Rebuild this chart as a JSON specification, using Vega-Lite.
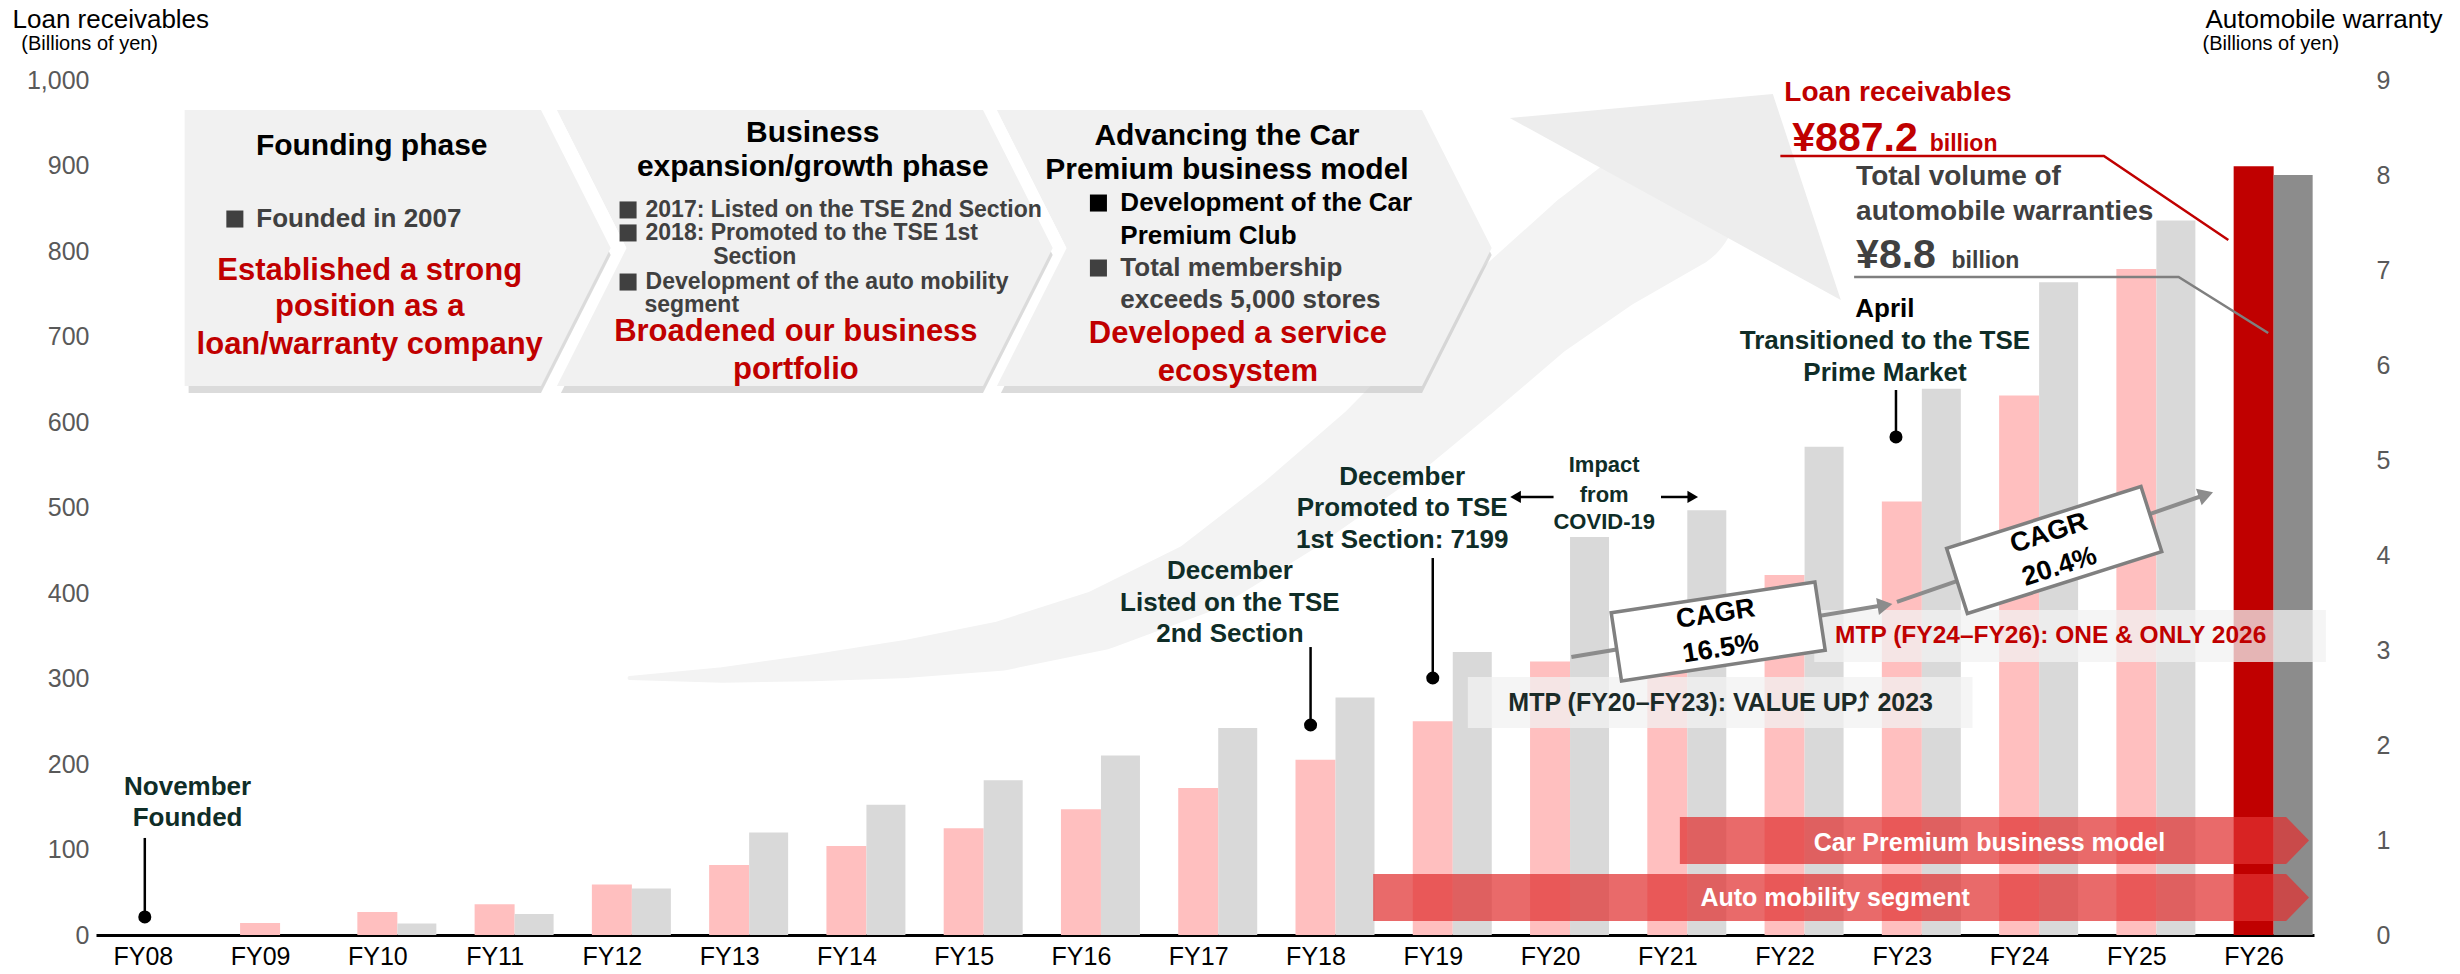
{
  "$schema": "https://vega.github.io/schema/vega-lite/v6.json",
  "width": 2218,
  "height": 855,
  "autosize": {"type": "none"},
  "padding": {"left": 96, "top": 80, "right": 146, "bottom": 39},
  "background": "white",
  "config": {
    "view": {"stroke": null},
    "font": "Liberation Sans",
    "axis": {"labelFont": "Liberation Sans", "titleFont": "Liberation Sans"}
  },
  "datasets": {
    "bars": [
      {"x": 8, "loan": 0, "warranty": 0},
      {"x": 9, "loan": 14, "warranty": 0},
      {"x": 10, "loan": 27, "warranty": 0.12},
      {"x": 11, "loan": 36, "warranty": 0.22},
      {"x": 12, "loan": 59, "warranty": 0.49},
      {"x": 13, "loan": 82, "warranty": 1.08},
      {"x": 14, "loan": 104, "warranty": 1.37},
      {"x": 15, "loan": 125, "warranty": 1.63},
      {"x": 16, "loan": 147, "warranty": 1.89},
      {"x": 17, "loan": 172, "warranty": 2.18},
      {"x": 18, "loan": 205, "warranty": 2.5},
      {"x": 19, "loan": 250, "warranty": 2.98},
      {"x": 20, "loan": 320, "warranty": 4.19},
      {"x": 21, "loan": 370, "warranty": 4.47},
      {"x": 22, "loan": 421, "warranty": 5.14},
      {"x": 23, "loan": 507, "warranty": 5.75},
      {"x": 24, "loan": 631, "warranty": 6.87},
      {"x": 25, "loan": 779, "warranty": 7.52},
      {"x": 26, "loan": 899, "warranty": 8.0}
    ],
    "swoosh": [
      {"k": 0, "x": 12.151, "y": 300.6},
      {"k": 1, "x": 12.941, "y": 304.1},
      {"k": 2, "x": 13.705, "y": 312.3},
      {"k": 3, "x": 14.511, "y": 322.8},
      {"k": 4, "x": 15.317, "y": 338.0},
      {"k": 5, "x": 16.166, "y": 368.4},
      {"k": 6, "x": 17.015, "y": 418.7},
      {"k": 7, "x": 17.779, "y": 491.2},
      {"k": 8, "x": 18.543, "y": 573.1},
      {"k": 9, "x": 19.222, "y": 658.5},
      {"k": 10, "x": 19.817, "y": 736.8},
      {"k": 11, "x": 20.411, "y": 801.2},
      {"k": 12, "x": 20.997, "y": 855.0}
    ],
    "swooshHead": [{"x": 21.064, "y": 849.1}],
    "phases": [
      {"box": 1, "x": 8.3565, "x2": 11.3956, "y": 964.9},
      {"box": 1, "x": 8.3565, "x2": 11.9898, "y": 803.5},
      {"box": 1, "x": 8.3565, "x2": 11.3956, "y": 642.1},
      {"box": 2, "x": 11.5314, "x2": 15.1647, "y": 964.9},
      {"box": 2, "x": 12.1256, "x2": 15.7589, "y": 803.5},
      {"box": 2, "x": 11.5314, "x2": 15.1647, "y": 642.1},
      {"box": 3, "x": 15.2835, "x2": 18.9083, "y": 964.9},
      {"box": 3, "x": 15.8778, "x2": 19.5025, "y": 803.5},
      {"box": 3, "x": 15.2835, "x2": 18.9083, "y": 642.1}
    ],
    "phaseTitle": [
      {"x": 9.952, "y": 922.8, "text": "Founding phase"},
      {"x": 13.713, "y": 938.0, "text": "Business"},
      {"x": 13.713, "y": 898.2, "text": "expansion/growth phase"},
      {"x": 17.245, "y": 934.5, "text": "Advancing the Car"},
      {"x": 17.245, "y": 894.7, "text": "Premium business model"}
    ],
    "phaseRed": [
      {"x": 9.935, "y": 776.6, "text": "Established a strong"},
      {"x": 9.935, "y": 734.5, "text": "position as a"},
      {"x": 9.935, "y": 690.1, "text": "loan/warranty company"},
      {"x": 13.569, "y": 705.3, "text": "Broadened our business"},
      {"x": 13.569, "y": 660.8, "text": "portfolio"},
      {"x": 17.338, "y": 702.9, "text": "Developed a service"},
      {"x": 17.338, "y": 658.5, "text": "ecosystem"}
    ],
    "squaresGray": [
      {"x": 8.785, "y": 837.4},
      {"x": 12.138, "y": 848.0},
      {"x": 12.138, "y": 821.1},
      {"x": 12.138, "y": 763.7},
      {"x": 16.149, "y": 780.1}
    ],
    "squaresBlack": [
      {"x": 16.149, "y": 856.1}
    ],
    "bulletsGray": [
      {"x": 8.968, "y": 837.4, "text": "Founded in 2007"},
      {"x": 16.336, "y": 780.1, "text": "Total membership"},
      {"x": 16.336, "y": 742.7, "text": "exceeds 5,000 stores"}
    ],
    "bulletsBlack": [
      {"x": 16.336, "y": 856.1, "text": "Development of the Car"},
      {"x": 16.336, "y": 817.5, "text": "Premium Club"}
    ],
    "bulletsSmall": [
      {"x": 12.287, "y": 848.0, "text": "2017: Listed on the TSE 2nd Section"},
      {"x": 12.287, "y": 821.1, "text": "2018: Promoted to the TSE 1st"},
      {"x": 12.864, "y": 792.5, "text": "Section"},
      {"x": 12.287, "y": 763.7, "text": "Development of the auto mobility"},
      {"x": 12.278, "y": 737.0, "text": "segment"}
    ],
    "milestones": [
      {"x": 8.382, "y": 173.1, "text": "November"},
      {"x": 8.382, "y": 136.8, "text": "Founded"},
      {"x": 17.27, "y": 425.7, "text": "December"},
      {"x": 17.27, "y": 388.3, "text": "Listed on the TSE"},
      {"x": 17.27, "y": 352.0, "text": "2nd Section"},
      {"x": 18.739, "y": 535.7, "text": "December"},
      {"x": 18.739, "y": 499.4, "text": "Promoted to TSE"},
      {"x": 18.739, "y": 462.0, "text": "1st Section: 7199"},
      {"x": 22.856, "y": 694.7, "text": "Transitioned to the TSE"},
      {"x": 22.856, "y": 657.3, "text": "Prime Market"}
    ],
    "april": [{"x": 22.856, "y": 732.2, "text": "April"}],
    "impact": [
      {"x": 20.462, "y": 549.7, "text": "Impact"},
      {"x": 20.462, "y": 514.6, "text": "from"},
      {"x": 20.462, "y": 483.0, "text": "COVID-19"}
    ],
    "pins": [
      {"x": 8.017, "y": 113.5, "y2": 21.1},
      {"x": 17.958, "y": 336.8, "y2": 245.6},
      {"x": 19.0, "y": 440.9, "y2": 300.6},
      {"x": 22.95, "y": 637.4, "y2": 582.5}
    ],
    "covid": [
      {"x": 19.72, "x2": 20.03, "y": 512.3},
      {"x": 20.946, "x2": 21.2, "y": 512.3}
    ],
    "covidHeads": [
      {"x": 19.706, "y": 512.3, "dir": "left"},
      {"x": 21.217, "y": 512.3, "dir": "right"}
    ],
    "cagrLines": [
      {"id": 1, "x": 20.182, "y": 325.1},
      {"id": 1, "x": 22.88, "y": 386.6},
      {"id": 2, "x": 22.958, "y": 389.5},
      {"id": 2, "x": 25.6, "y": 515.5}
    ],
    "cagrHeads": [
      {"id": 1, "x": 22.856, "y": 385.6},
      {"id": 2, "x": 25.593, "y": 515.1}
    ],
    "cagrBoxes": [
      {"id": 1, "x": 21.434, "y": 355.0},
      {"id": 2, "x": 24.299, "y": 450.3}
    ],
    "cagrText": [
      {"id": 1, "x": 21.412, "y": 375.2, "text": "CAGR"},
      {"id": 1, "x": 21.456, "y": 334.7, "text": "16.5%"},
      {"id": 2, "x": 24.254, "y": 469.8, "text": "CAGR"},
      {"id": 2, "x": 24.344, "y": 430.8, "text": "20.4%"}
    ],
    "mtpBoxes": [
      {"x": 19.299, "x2": 23.603, "y": 301.8, "y2": 242.1},
      {"x": 22.253, "x2": 26.616, "y": 380.1, "y2": 319.3}
    ],
    "mtp1": [{"x": 21.455, "y": 271.3, "text": "MTP (FY20–FY23): VALUE UP⤴ 2023"}],
    "mtp2": [{"x": 22.431, "y": 349.7, "text": "MTP (FY24–FY26): ONE & ONLY 2026"}],
    "bands": [
      {"band": "cp", "x": 21.107, "x2": 26.277, "y": 138.0},
      {"band": "cp", "x": 21.107, "x2": 26.472, "y": 110.5},
      {"band": "cp", "x": 21.107, "x2": 26.277, "y": 83.0},
      {"band": "am", "x": 18.492, "x2": 26.277, "y": 71.3},
      {"band": "am", "x": 18.492, "x2": 26.472, "y": 43.9},
      {"band": "am", "x": 18.492, "x2": 26.277, "y": 16.4}
    ],
    "bandText": [
      {"x": 23.747, "y": 107.6, "text": "Car Premium business model"},
      {"x": 22.431, "y": 43.3, "text": "Auto mobility segment"}
    ],
    "calloutLines": [
      {"id": "loan", "o": 0, "x": 21.964, "y": 911.1},
      {"id": "loan", "o": 1, "x": 24.723, "y": 911.1},
      {"id": "loan", "o": 2, "x": 25.784, "y": 812.9},
      {"id": "warranty", "o": 0, "x": 22.593, "y": 769.6},
      {"id": "warranty", "o": 1, "x": 25.36, "y": 769.6},
      {"id": "warranty", "o": 2, "x": 26.124, "y": 704.1}
    ],
    "redTitle": [{"x": 21.998, "y": 984.8, "text": "Loan receivables"}],
    "redBig": [{"x": 22.066, "y": 917.0, "text": "¥887.2"}],
    "redSmall": [{"x": 23.238, "y": 917.0, "text": "billion"}],
    "grayTitle": [
      {"x": 22.61, "y": 886.5, "text": "Total volume of"},
      {"x": 22.61, "y": 845.6, "text": "automobile warranties"}
    ],
    "grayBig": [{"x": 22.61, "y": 780.1, "text": "¥8.8"}],
    "graySmall": [{"x": 23.424, "y": 780.1, "text": "billion"}],
    "axisSub": [
      {"x": 6.964, "y": 1042.1, "text": "(Billions of yen)"},
      {"x": 25.564, "y": 1042.1, "text": "(Billions of yen)"}
    ]
  },
  "encoding": {
    "x": {
      "field": "x",
      "type": "quantitative",
      "scale": {"domain": [7.6435, 26.472], "nice": false, "zero": false},
      "axis": {
        "values": [8, 9, 10, 11, 12, 13, 14, 15, 16, 17, 18, 19, 20, 21, 22, 23, 24, 25, 26],
        "labelExpr": "'FY' + (datum.value < 10 ? '0' : '') + datum.value",
        "title": null,
        "grid": false,
        "ticks": false,
        "tickSize": 0,
        "domainColor": "#000000",
        "domainWidth": 3,
        "labelFontSize": 25,
        "labelColor": "#000000",
        "labelPadding": 9,
        "labelFlush": false,
        "labelOverlap": false
      }
    }
  },
  "layer": [
    {
      "layer": [
        {
          "data": {"name": "swoosh"},
          "mark": {"type": "trail", "color": "#f3f3f3"},
          "encoding": {
            "y": {"field": "y", "type": "quantitative", "scale": {"domain": [0, 1000], "nice": false},
              "axis": {"orient": "left", "values": [0, 100, 200, 300, 400, 500, 600, 700, 800, 900, 1000], "format": ",d", "title": "Loan receivables", "titleAngle": 0, "titleAlign": "left", "titleBaseline": "middle", "titleX": -84, "titleY": -61, "titleFontSize": 26, "titleFontWeight": "normal", "titleColor": "#000000", "labelFontSize": 25, "labelColor": "#595959", "labelPadding": 7, "ticks": false, "tickSize": 0, "domain": false, "grid": false}},
            "size": {"field": "k", "type": "quantitative", "scale": {"domain": [0, 12], "range": [4, 140]}, "legend": null},
            "order": {"field": "k", "type": "quantitative"}
          }
        },
        {
          "data": {"name": "swooshHead"},
          "mark": {"type": "point", "shape": "M98,-115L166,91L-165,-91Z", "size": 4, "filled": true, "color": "#ededed", "opacity": 1, "strokeWidth": 0},
          "encoding": {
            "y": {"field": "y", "type": "quantitative", "scale": {"domain": [0, 1000], "nice": false},
              "axis": {"orient": "left", "values": [0, 100, 200, 300, 400, 500, 600, 700, 800, 900, 1000], "format": ",d", "title": "Loan receivables", "titleAngle": 0, "titleAlign": "left", "titleBaseline": "middle", "titleX": -84, "titleY": -61, "titleFontSize": 26, "titleFontWeight": "normal", "titleColor": "#000000", "labelFontSize": 25, "labelColor": "#595959", "labelPadding": 7, "ticks": false, "tickSize": 0, "domain": false, "grid": false}}
          }
        },
        {
          "data": {"name": "phases"},
          "mark": {"type": "area", "orient": "horizontal", "color": "#bdbdbd", "opacity": 0.55, "xOffset": 4, "yOffset": 7},
          "encoding": {
            "y": {"field": "y", "type": "quantitative", "scale": {"domain": [0, 1000], "nice": false},
              "axis": {"orient": "left", "values": [0, 100, 200, 300, 400, 500, 600, 700, 800, 900, 1000], "format": ",d", "title": "Loan receivables", "titleAngle": 0, "titleAlign": "left", "titleBaseline": "middle", "titleX": -84, "titleY": -61, "titleFontSize": 26, "titleFontWeight": "normal", "titleColor": "#000000", "labelFontSize": 25, "labelColor": "#595959", "labelPadding": 7, "ticks": false, "tickSize": 0, "domain": false, "grid": false}},
            "x2": {"field": "x2"},
            "detail": {"field": "box", "type": "nominal"}
          }
        },
        {
          "data": {"name": "phases"},
          "mark": {"type": "area", "orient": "horizontal", "color": "#f1f1f1", "opacity": 1},
          "encoding": {
            "y": {"field": "y", "type": "quantitative", "scale": {"domain": [0, 1000], "nice": false},
              "axis": {"orient": "left", "values": [0, 100, 200, 300, 400, 500, 600, 700, 800, 900, 1000], "format": ",d", "title": "Loan receivables", "titleAngle": 0, "titleAlign": "left", "titleBaseline": "middle", "titleX": -84, "titleY": -61, "titleFontSize": 26, "titleFontWeight": "normal", "titleColor": "#000000", "labelFontSize": 25, "labelColor": "#595959", "labelPadding": 7, "ticks": false, "tickSize": 0, "domain": false, "grid": false}},
            "x2": {"field": "x2"},
            "detail": {"field": "box", "type": "nominal"}
          }
        },
        {
          "data": {"name": "bars"},
          "mark": {"type": "bar", "width": 40},
          "encoding": {
            "y": {"field": "loan", "type": "quantitative", "scale": {"domain": [0, 1000], "nice": false},
              "axis": {"orient": "left", "values": [0, 100, 200, 300, 400, 500, 600, 700, 800, 900, 1000], "format": ",d", "title": "Loan receivables", "titleAngle": 0, "titleAlign": "left", "titleBaseline": "middle", "titleX": -84, "titleY": -61, "titleFontSize": 26, "titleFontWeight": "normal", "titleColor": "#000000", "labelFontSize": 25, "labelColor": "#595959", "labelPadding": 7, "ticks": false, "tickSize": 0, "domain": false, "grid": false}},
            "color": {"condition": {"test": "datum.x == 26", "value": "#c00000"}, "value": "#ffbfbf"}
          }
        }
      ]
    },
    {
      "layer": [
        {
          "data": {"name": "bars"},
          "mark": {"type": "bar", "width": 39, "xOffset": 39.5},
          "encoding": {
            "y": {
              "field": "warranty",
              "type": "quantitative",
              "scale": {"domain": [0, 9], "nice": false},
              "axis": {
                "orient": "right",
                "values": [0, 1, 2, 3, 4, 5, 6, 7, 8, 9],
                "title": "Automobile warranty",
                "titleAngle": 0,
                "titleAlign": "left",
                "titleBaseline": "middle",
                "titleX": -109,
                "titleY": -61,
                "titleFontSize": 26,
                "titleFontWeight": "normal",
                "titleColor": "#000000",
                "labelFontSize": 25,
                "labelColor": "#595959",
                "labelPadding": 62,
                "ticks": false,
                "tickSize": 0,
                "domain": false,
                "grid": false
              }
            },
            "color": {"condition": {"test": "datum.x == 26", "value": "#8c8c8c"}, "value": "#d9d9d9"}
          }
        }
      ]
    },
    {
      "layer": [
        {
          "data": {"name": "pins"},
          "mark": {"type": "rule", "color": "#000000", "strokeWidth": 2.5},
          "encoding": {
            "y": {"field": "y", "type": "quantitative", "scale": {"domain": [0, 1000], "nice": false}, "axis": null},
            "y2": {"field": "y2"}
          }
        },
        {
          "data": {"name": "pins"},
          "mark": {"type": "circle", "color": "#000000", "size": 170, "opacity": 1},
          "encoding": {
            "y": {"field": "y2", "type": "quantitative", "scale": {"domain": [0, 1000], "nice": false}, "axis": null}
          }
        },
        {
          "data": {"name": "covid"},
          "mark": {"type": "rule", "color": "#000000", "strokeWidth": 2.5},
          "encoding": {
            "y": {"field": "y", "type": "quantitative", "scale": {"domain": [0, 1000], "nice": false}, "axis": null},
            "x2": {"field": "x2"}
          }
        },
        {
          "data": {"name": "covidHeads"},
          "mark": {"type": "point", "filled": true, "color": "#000000", "size": 150, "opacity": 1},
          "encoding": {
            "y": {"field": "y", "type": "quantitative", "scale": {"domain": [0, 1000], "nice": false}, "axis": null},
            "shape": {"field": "dir", "type": "nominal", "scale": {"domain": ["left", "right"], "range": ["triangle-left", "triangle-right"]}, "legend": null}
          }
        },
        {
          "data": {"name": "mtpBoxes"},
          "mark": {"type": "rect", "color": "#f2f2f2", "opacity": 0.75},
          "encoding": {
            "y": {"field": "y", "type": "quantitative", "scale": {"domain": [0, 1000], "nice": false}, "axis": null},
            "y2": {"field": "y2"},
            "x2": {"field": "x2"}
          }
        },
        {
          "data": {"name": "cagrLines"},
          "mark": {"type": "line", "color": "#8c8c8c", "strokeWidth": 4},
          "encoding": {
            "y": {"field": "y", "type": "quantitative", "scale": {"domain": [0, 1000], "nice": false}, "axis": null},
            "detail": {"field": "id", "type": "nominal"}
          }
        },
        {
          "data": {"name": "cagrHeads"},
          "transform": [{"filter": "datum.id == 1"}],
          "mark": {"type": "point", "shape": "triangle-right", "filled": true, "color": "#8c8c8c", "size": 300, "opacity": 1, "angle": -9.3},
          "encoding": {
            "y": {"field": "y", "type": "quantitative", "scale": {"domain": [0, 1000], "nice": false}, "axis": null}
          }
        },
        {
          "data": {"name": "cagrHeads"},
          "transform": [{"filter": "datum.id == 2"}],
          "mark": {"type": "point", "shape": "triangle-right", "filled": true, "color": "#8c8c8c", "size": 300, "opacity": 1, "angle": -19.1},
          "encoding": {
            "y": {"field": "y", "type": "quantitative", "scale": {"domain": [0, 1000], "nice": false}, "axis": null}
          }
        },
        {
          "data": {"name": "cagrBoxes"},
          "transform": [{"filter": "datum.id == 1"}],
          "mark": {"type": "point", "shape": "M-1,-0.335L1,-0.335L1,0.335L-1,0.335Z", "size": 42436, "filled": true, "fill": "#ffffff", "stroke": "#808080", "strokeWidth": 3.5, "opacity": 1, "angle": -8.6},
          "encoding": {
            "y": {"field": "y", "type": "quantitative", "scale": {"domain": [0, 1000], "nice": false}, "axis": null}
          }
        },
        {
          "data": {"name": "cagrBoxes"},
          "transform": [{"filter": "datum.id == 2"}],
          "mark": {"type": "point", "shape": "M-1,-0.335L1,-0.335L1,0.335L-1,0.335Z", "size": 41616, "filled": true, "fill": "#ffffff", "stroke": "#808080", "strokeWidth": 3.5, "opacity": 1, "angle": -17.7},
          "encoding": {
            "y": {"field": "y", "type": "quantitative", "scale": {"domain": [0, 1000], "nice": false}, "axis": null}
          }
        },
        {
          "data": {"name": "cagrText"},
          "transform": [{"filter": "datum.id == 1"}],
          "mark": {"type": "text", "font": "Liberation Sans", "fontWeight": "bold", "fontSize": 27, "color": "#000000", "align": "center", "baseline": "middle", "angle": -8.6},
          "encoding": {
            "y": {"field": "y", "type": "quantitative", "scale": {"domain": [0, 1000], "nice": false}, "axis": null},
            "text": {"field": "text"}
          }
        },
        {
          "data": {"name": "cagrText"},
          "transform": [{"filter": "datum.id == 2"}],
          "mark": {"type": "text", "font": "Liberation Sans", "fontWeight": "bold", "fontSize": 27, "color": "#000000", "align": "center", "baseline": "middle", "angle": -17.7},
          "encoding": {
            "y": {"field": "y", "type": "quantitative", "scale": {"domain": [0, 1000], "nice": false}, "axis": null},
            "text": {"field": "text"}
          }
        },
        {
          "data": {"name": "mtp1"},
          "mark": {"type": "text", "font": "Liberation Sans", "fontWeight": "bold", "fontSize": 25, "color": "#1c2b28", "align": "center", "baseline": "middle"},
          "encoding": {
            "y": {"field": "y", "type": "quantitative", "scale": {"domain": [0, 1000], "nice": false}, "axis": null},
            "text": {"field": "text"}
          }
        },
        {
          "data": {"name": "mtp2"},
          "mark": {"type": "text", "font": "Liberation Sans", "fontWeight": "bold", "fontSize": 24.5, "color": "#c00000", "align": "left", "baseline": "middle"},
          "encoding": {
            "y": {"field": "y", "type": "quantitative", "scale": {"domain": [0, 1000], "nice": false}, "axis": null},
            "text": {"field": "text"}
          }
        },
        {
          "data": {"name": "bands"},
          "mark": {"type": "area", "orient": "horizontal", "color": "#e03030", "opacity": 0.72},
          "encoding": {
            "y": {"field": "y", "type": "quantitative", "scale": {"domain": [0, 1000], "nice": false}, "axis": null},
            "x2": {"field": "x2"},
            "detail": {"field": "band", "type": "nominal"}
          }
        },
        {
          "data": {"name": "bandText"},
          "mark": {"type": "text", "font": "Liberation Sans", "fontWeight": "bold", "fontSize": 25, "color": "#ffffff", "align": "center", "baseline": "middle"},
          "encoding": {
            "y": {"field": "y", "type": "quantitative", "scale": {"domain": [0, 1000], "nice": false}, "axis": null},
            "text": {"field": "text"}
          }
        },
        {
          "data": {"name": "milestones"},
          "mark": {"type": "text", "font": "Liberation Sans", "fontWeight": "bold", "fontSize": 26, "color": "#0f2d27", "align": "center", "baseline": "middle"},
          "encoding": {
            "y": {"field": "y", "type": "quantitative", "scale": {"domain": [0, 1000], "nice": false}, "axis": null},
            "text": {"field": "text"}
          }
        },
        {
          "data": {"name": "april"},
          "mark": {"type": "text", "font": "Liberation Sans", "fontWeight": "bold", "fontSize": 26, "color": "#000000", "align": "center", "baseline": "middle"},
          "encoding": {
            "y": {"field": "y", "type": "quantitative", "scale": {"domain": [0, 1000], "nice": false}, "axis": null},
            "text": {"field": "text"}
          }
        },
        {
          "data": {"name": "impact"},
          "mark": {"type": "text", "font": "Liberation Sans", "fontWeight": "bold", "fontSize": 22, "color": "#0f2d27", "align": "center", "baseline": "middle"},
          "encoding": {
            "y": {"field": "y", "type": "quantitative", "scale": {"domain": [0, 1000], "nice": false}, "axis": null},
            "text": {"field": "text"}
          }
        },
        {
          "data": {"name": "phaseTitle"},
          "mark": {"type": "text", "font": "Liberation Sans", "fontWeight": "bold", "fontSize": 30, "color": "#000000", "align": "center", "baseline": "middle"},
          "encoding": {
            "y": {"field": "y", "type": "quantitative", "scale": {"domain": [0, 1000], "nice": false}, "axis": null},
            "text": {"field": "text"}
          }
        },
        {
          "data": {"name": "phaseRed"},
          "mark": {"type": "text", "font": "Liberation Sans", "fontWeight": "bold", "fontSize": 31, "color": "#c00000", "align": "center", "baseline": "middle"},
          "encoding": {
            "y": {"field": "y", "type": "quantitative", "scale": {"domain": [0, 1000], "nice": false}, "axis": null},
            "text": {"field": "text"}
          }
        },
        {
          "data": {"name": "squaresGray"},
          "mark": {"type": "square", "color": "#404040", "size": 290, "opacity": 1},
          "encoding": {
            "y": {"field": "y", "type": "quantitative", "scale": {"domain": [0, 1000], "nice": false}, "axis": null}
          }
        },
        {
          "data": {"name": "squaresBlack"},
          "mark": {"type": "square", "color": "#000000", "size": 290, "opacity": 1},
          "encoding": {
            "y": {"field": "y", "type": "quantitative", "scale": {"domain": [0, 1000], "nice": false}, "axis": null}
          }
        },
        {
          "data": {"name": "bulletsGray"},
          "mark": {"type": "text", "font": "Liberation Sans", "fontWeight": "bold", "fontSize": 26, "color": "#404040", "align": "left", "baseline": "middle"},
          "encoding": {
            "y": {"field": "y", "type": "quantitative", "scale": {"domain": [0, 1000], "nice": false}, "axis": null},
            "text": {"field": "text"}
          }
        },
        {
          "data": {"name": "bulletsBlack"},
          "mark": {"type": "text", "font": "Liberation Sans", "fontWeight": "bold", "fontSize": 26, "color": "#000000", "align": "left", "baseline": "middle"},
          "encoding": {
            "y": {"field": "y", "type": "quantitative", "scale": {"domain": [0, 1000], "nice": false}, "axis": null},
            "text": {"field": "text"}
          }
        },
        {
          "data": {"name": "bulletsSmall"},
          "mark": {"type": "text", "font": "Liberation Sans", "fontWeight": "bold", "fontSize": 23, "color": "#404040", "align": "left", "baseline": "middle"},
          "encoding": {
            "y": {"field": "y", "type": "quantitative", "scale": {"domain": [0, 1000], "nice": false}, "axis": null},
            "text": {"field": "text"}
          }
        },
        {
          "data": {"name": "calloutLines"},
          "mark": {"type": "line", "strokeWidth": 2.5},
          "encoding": {
            "y": {"field": "y", "type": "quantitative", "scale": {"domain": [0, 1000], "nice": false}, "axis": null},
            "color": {"field": "id", "type": "nominal", "scale": {"domain": ["loan", "warranty"], "range": ["#c00000", "#7f7f7f"]}, "legend": null},
            "order": {"field": "o", "type": "quantitative"}
          }
        },
        {
          "data": {"name": "redTitle"},
          "mark": {"type": "text", "font": "Liberation Sans", "fontWeight": "bold", "fontSize": 28, "color": "#c00000", "align": "left", "baseline": "middle"},
          "encoding": {
            "y": {"field": "y", "type": "quantitative", "scale": {"domain": [0, 1000], "nice": false}, "axis": null},
            "text": {"field": "text"}
          }
        },
        {
          "data": {"name": "redBig"},
          "mark": {"type": "text", "font": "Liberation Sans", "fontWeight": "bold", "fontSize": 41, "color": "#c00000", "align": "left", "baseline": "alphabetic"},
          "encoding": {
            "y": {"field": "y", "type": "quantitative", "scale": {"domain": [0, 1000], "nice": false}, "axis": null},
            "text": {"field": "text"}
          }
        },
        {
          "data": {"name": "redSmall"},
          "mark": {"type": "text", "font": "Liberation Sans", "fontWeight": "bold", "fontSize": 23, "color": "#c00000", "align": "left", "baseline": "alphabetic"},
          "encoding": {
            "y": {"field": "y", "type": "quantitative", "scale": {"domain": [0, 1000], "nice": false}, "axis": null},
            "text": {"field": "text"}
          }
        },
        {
          "data": {"name": "grayTitle"},
          "mark": {"type": "text", "font": "Liberation Sans", "fontWeight": "bold", "fontSize": 28, "color": "#404040", "align": "left", "baseline": "middle"},
          "encoding": {
            "y": {"field": "y", "type": "quantitative", "scale": {"domain": [0, 1000], "nice": false}, "axis": null},
            "text": {"field": "text"}
          }
        },
        {
          "data": {"name": "grayBig"},
          "mark": {"type": "text", "font": "Liberation Sans", "fontWeight": "bold", "fontSize": 41, "color": "#404040", "align": "left", "baseline": "alphabetic"},
          "encoding": {
            "y": {"field": "y", "type": "quantitative", "scale": {"domain": [0, 1000], "nice": false}, "axis": null},
            "text": {"field": "text"}
          }
        },
        {
          "data": {"name": "graySmall"},
          "mark": {"type": "text", "font": "Liberation Sans", "fontWeight": "bold", "fontSize": 23, "color": "#404040", "align": "left", "baseline": "alphabetic"},
          "encoding": {
            "y": {"field": "y", "type": "quantitative", "scale": {"domain": [0, 1000], "nice": false}, "axis": null},
            "text": {"field": "text"}
          }
        },
        {
          "data": {"name": "axisSub"},
          "mark": {"type": "text", "font": "Liberation Sans", "fontSize": 20, "color": "#000000", "align": "left", "baseline": "middle"},
          "encoding": {
            "y": {"field": "y", "type": "quantitative", "scale": {"domain": [0, 1000], "nice": false}, "axis": null},
            "text": {"field": "text"}
          }
        }
      ]
    }
  ],
  "resolve": {"scale": {"y": "independent"}, "axis": {"y": "independent"}}
}
